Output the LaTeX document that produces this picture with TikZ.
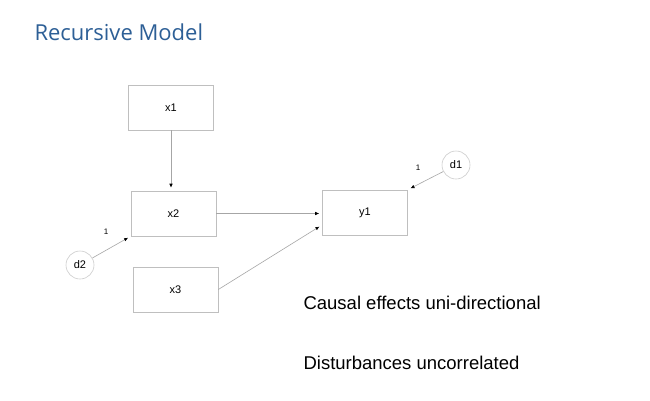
\documentclass[tikz,border=0pt]{standalone}
\usepackage{fontspec}
\usetikzlibrary{arrows.meta}
\setmainfont{Liberation Sans}
\newfontfamily\titlefont{Open Sans}
\definecolor{titleblue}{RGB}{45,95,150}
\begin{document}
\begin{tikzpicture}[x=1pt,y=-1pt,
  boxnode/.style={draw=black!25,line width=0.6pt,minimum width=85pt,minimum height=45pt,font=\fontsize{11}{12}\selectfont},
  errnode/.style={circle,draw=black!20,line width=0.6pt,minimum size=28pt,inner sep=0pt,font=\fontsize{11}{12}\selectfont},
  conn/.style={draw=black!35,line width=0.6pt,-{Latex[length=4pt,width=3.5pt,black]},shorten >=3pt},
  lbl/.style={font=\fontsize{8}{9}\selectfont}]
\useasboundingbox (0,0) rectangle (650,400);
\fill[white] (0,0) rectangle (650,400);
\node[anchor=west,text=titleblue,font=\titlefont\fontsize{22}{26}\selectfont] (title) at (31,32) {Recursive Model};
\node[boxnode] (x1) at (171,107.5) {x1};
\node[boxnode] (x2) at (173.5,213.5) {x2};
\node[boxnode] (x3) at (175.5,289.5) {x3};
\node[boxnode] (y1) at (365,212.5) {y1};
\node[errnode] (d1) at (456,165) {d1};
\node[errnode] (d2) at (80,265) {d2};
\coordinate (y1a) at (322,225);
\draw[conn] (x1.south) -- (x1.south |- x2.north);
\draw[conn] (x2.east) -- (x2.east -| y1.west);
\draw[conn] (x3.east) -- (y1a);
\draw[conn] (d1) -- (y1.north east);
\draw[conn] (d2) -- (x2.south west);
\node[lbl] (l1) at (418,168) {1};
\node[lbl] (l2) at (106,232) {1};
\node[anchor=west,font=\fontsize{18.5}{22}\selectfont] (t1) at (300,303) {Causal effects uni-directional};
\node[anchor=west,font=\fontsize{18.5}{22}\selectfont] (t2) at (300,363) {Disturbances uncorrelated};
\end{tikzpicture}
\end{document}
